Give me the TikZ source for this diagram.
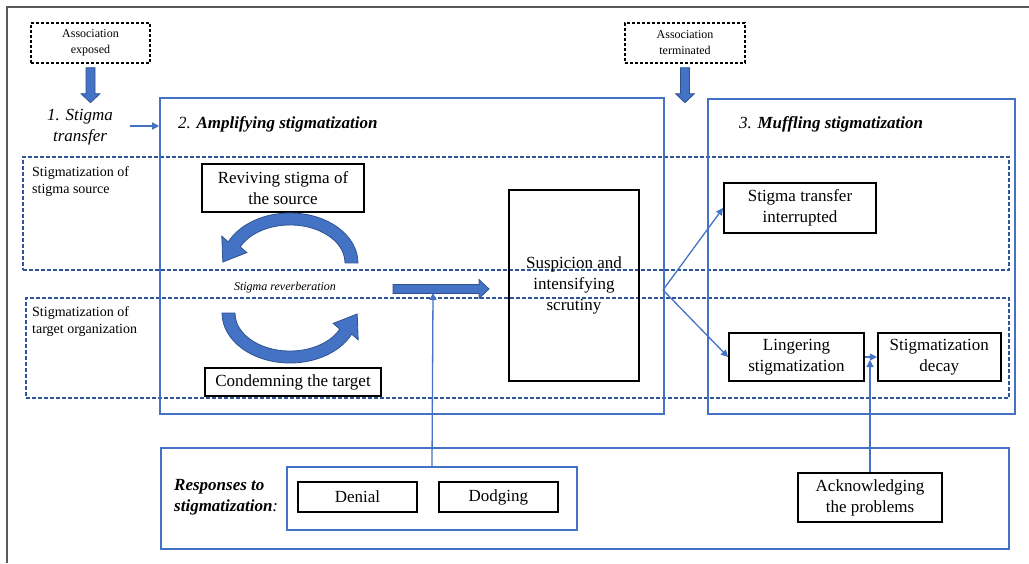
\documentclass[tikz,border=0pt]{standalone}
\usepackage{fontspec}
\setmainfont{Liberation Serif}
\usetikzlibrary{arrows.meta,positioning}

\definecolor{boxblue}{RGB}{68,114,196}
\definecolor{stripeblue}{RGB}{47,85,151}
\definecolor{arrowedge}{RGB}{47,82,143}
\definecolor{framegray}{RGB}{89,89,89}

\newcommand{\bigtext}{\fontsize{17}{21}\selectfont}
\newcommand{\midtext}{\fontsize{14}{17}\selectfont}
\newcommand{\smalltext}{\fontsize{12}{16}\selectfont}

\tikzset{
    stagebox/.style={draw=boxblue, line width=1.6pt, inner sep=0pt},
    stripe/.style={draw=stripeblue, line width=1.4pt, dash pattern=on 4pt off 2pt, inner sep=0pt},
    eventbox/.style={draw=black, line width=1.3pt, dash pattern=on 3pt off 2pt,
        align=center, font=\smalltext, inner sep=0pt},
    blackbox/.style={draw=black, line width=1.8pt, align=center, font=\bigtext, inner sep=0pt},
    rowlabel/.style={anchor=north west, align=left, font=\midtext, inner sep=0pt},
    flow/.style={->, draw=boxblue, line width=1.3pt},
    pics/blockarrow/.style 2 args={code={
        \filldraw[fill=boxblue, draw=arrowedge, line width=0.8pt]
            (0,-4.5) -- (#1-#2,-4.5) -- (#1-#2,-9.5) -- (#1,0)
            -- (#1-#2,9.5) -- (#1-#2,4.5) -- (0,4.5) -- cycle;
    }},
    pics/bendarrow/.style={code={
        \filldraw[fill=boxblue, draw=arrowedge, line width=0.8pt]
            (68,0) arc[start angle=0, end angle=-155, x radius=68, y radius=50]
            -- (-68.2,-26.8) -- (-67.2,-1) -- (-43.2,-10.4) -- (-49.8,-16.1)
            arc[start angle=-155, end angle=0, x radius=55, y radius=38] -- cycle;
    }}
}

\begin{document}
\begin{tikzpicture}[
        x=1pt, y=-1pt,
        >={Triangle[length=7pt,width=7pt]}
        ]
        \useasboundingbox (0,0) rectangle (1029,563);

        % frame
        \draw[framegray, line width=1.6pt] (7,563) -- (7,7) -- (1029,7);

        % rows and stages
        \node (sourcerow) [stripe, minimum width=986pt, minimum height=113pt] at (516,213.5) {};
        \node (targetrow) [stripe, minimum width=983pt, minimum height=100pt] at (517.5,348) {};
        \node (amplify) [stagebox, minimum width=504pt, minimum height=316pt] at (412,256) {};
        \node (muffle) [stagebox, minimum width=307pt, minimum height=315pt] at (861.5,256.5) {};
        \node (responses) [stagebox, minimum width=848pt, minimum height=101pt] at (585,498.5) {};
        \node (respgroup) [stagebox, line width=1.4pt, minimum width=290pt, minimum height=63pt] at (432,498.5) {};

        \node (sourcelabel) [rowlabel] at (32,166) {Stigmatization of\\stigma source};
        \node (targetlabel) [rowlabel] at (32,306) {Stigmatization of\\target organization};

        \node (amplifytitle) [anchor=west, font=\bigtext, inner sep=0pt] at (178,124)
            {\textit{2. }\textbf{\textit{Amplifying stigmatization}}};
        \node (muffletitle) [anchor=west, font=\bigtext, inner sep=0pt] at (739,124)
            {\textit{3. }\textbf{\textit{Muffling stigmatization}}};
        \node (resplabel) [anchor=west, align=left, font=\bigtext, inner sep=0pt] at (174,497)
            {\textbf{\textit{Responses to}}\\\textbf{\textit{stigmatization}}\textit{:}};

        % events on top
        \node (exposed) [eventbox, minimum width=119pt, minimum height=40pt] at (90.5,43) {Association\\exposed};
        \node (terminated) [eventbox, minimum width=120pt, minimum height=40pt] at (685,43) {Association\\terminated};
        \node (transfer) [align=center, font=\bigtext\itshape, inner sep=0pt] at (80,127) {1. Stigma\\transfer};

        \pic[rotate=-90] at ([yshift=-4pt]exposed.south) {blockarrow={35}{9}};
        \pic[rotate=-90] at ([yshift=-4pt]terminated.south) {blockarrow={35}{9}};

        % amplifying stage
        \node (revive) [blackbox, minimum width=162pt, minimum height=48pt] at (283,188) {Reviving stigma of\\the source};
        \node (condemn) [blackbox, minimum width=176pt, minimum height=28pt] at (293,382) {Condemning the target};
        \node (reverb) [font=\smalltext\itshape, inner sep=0pt] at (285,288) {Stigma reverberation};
        \node (suspicion) [blackbox, minimum width=130pt, minimum height=191pt] at (574,285.5)
            {Suspicion and\\intensifying\\scrutiny};

        \pic at (290,263) {bendarrow};
        \pic[rotate=180] at (290,313) {bendarrow};
        \pic at (393,289) {blockarrow={96}{10}};

        % muffling stage
        \node (interrupt) [blackbox, minimum width=152pt, minimum height=50pt] at (800,208) {Stigma transfer\\interrupted};
        \node (linger) [blackbox, minimum width=135pt, minimum height=48pt] at (796.5,357) {Lingering\\stigmatization};
        \node (decay) [blackbox, minimum width=123pt, minimum height=48pt, right=12pt of linger] {Stigmatization\\decay};

        % responses
        \node (denial) [blackbox, minimum width=119pt, minimum height=30pt] at (357.5,497) {Denial};
        \node (dodging) [blackbox, minimum width=119pt, minimum height=30pt, right=20pt of denial] {Dodging};
        \node (acknow) [blackbox, minimum width=144pt, minimum height=49pt] at (870,497.5) {Acknowledging\\the problems};

        % thin connectors
        \coordinate (transferend) at (130,126);
        \coordinate (split) at (663,290);
        \coordinate (shaftlow) at (433,293);
        \draw[flow] (transferend) -- (transferend -| amplify.west);
        \draw[flow] (split) -- (interrupt.west);
        \draw[flow] (split) -- (linger.west);
        \draw[flow] (linger.east) -- (decay.west);
        \draw[flow] (respgroup.north) -- (shaftlow);
        \draw[flow, shorten >=3pt] (acknow.north) -- (acknow.north |- linger.east);
    \end{tikzpicture}
\end{document}
